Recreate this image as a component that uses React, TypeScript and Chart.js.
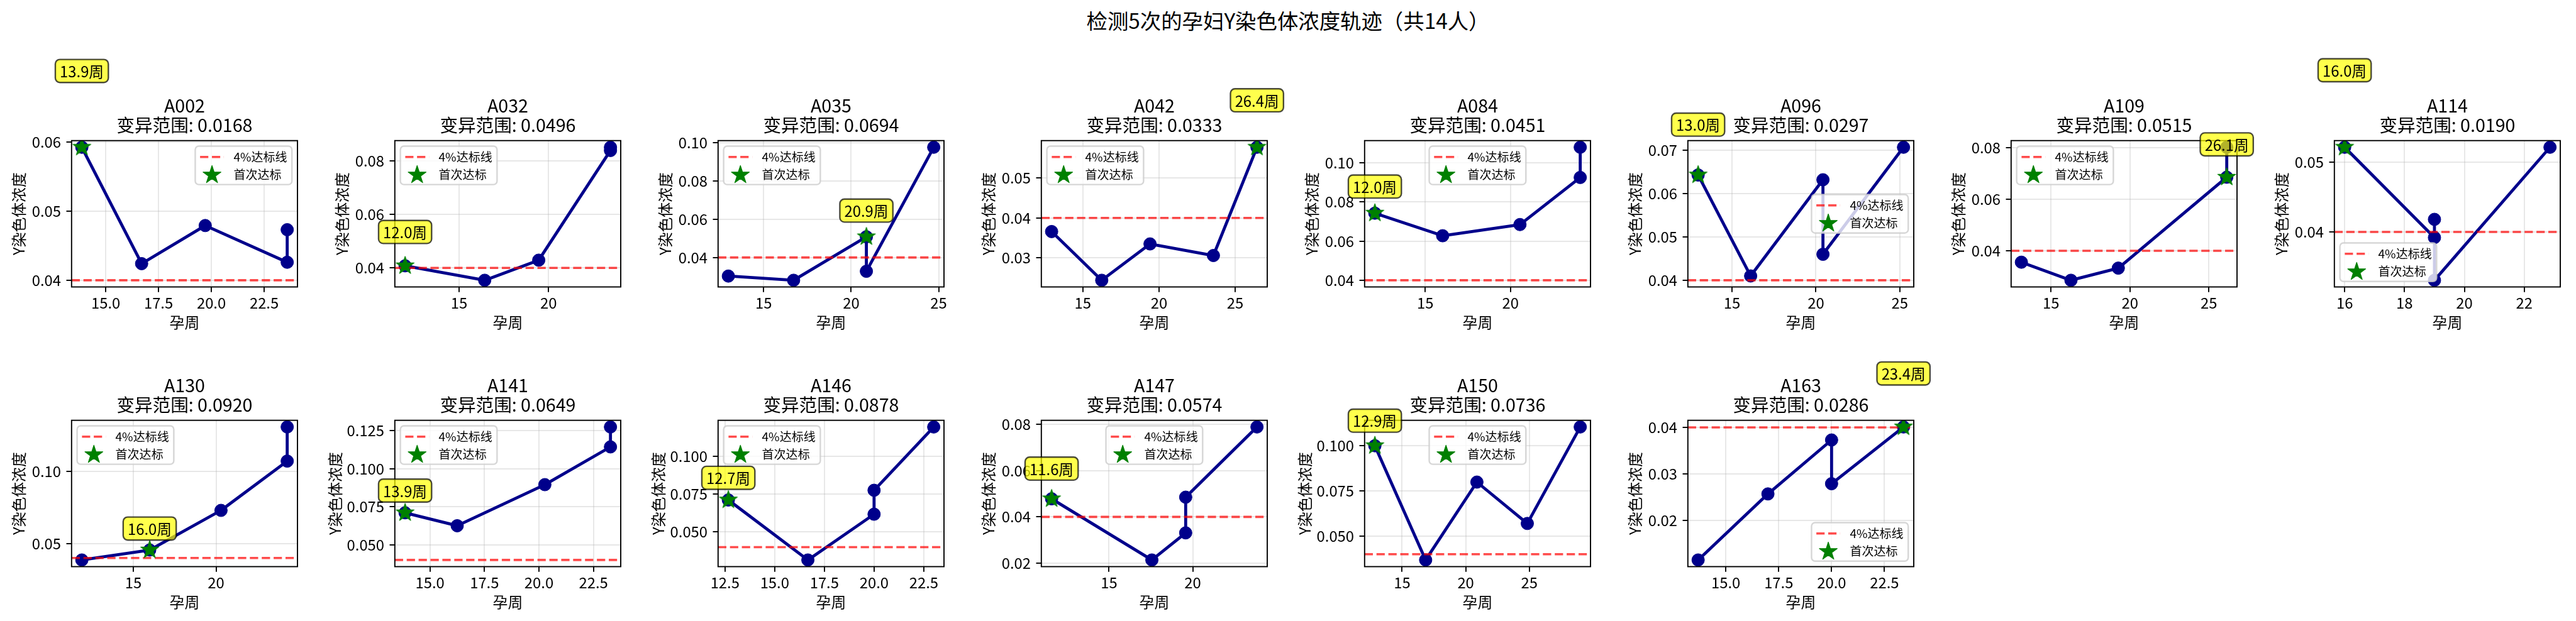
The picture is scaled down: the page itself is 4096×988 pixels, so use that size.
import React, { useEffect, useRef } from 'react';
import { Chart, registerables } from 'chart.js';

Chart.register(...registerables);

const FONT = '"Noto Sans CJK SC", "Noto Sans", sans-serif';

// ---------------- data ----------------
const SUPTITLE = '检测5次的孕妇Y染色体浓度轨迹（共14人）';
const ids = ['A002', 'A032', 'A035', 'A042', 'A084', 'A096', 'A109', 'A114', 'A130', 'A141', 'A146', 'A147', 'A150', 'A163'];
const weeks: number[][] = [
  [13.87, 16.70, 19.71, 23.59, 23.59],
  [11.98, 16.43, 19.45, 23.46, 23.46],
  [12.98, 16.71, 20.87, 20.87, 24.72],
  [12.95, 16.24, 19.41, 23.57, 26.43],
  [12.04, 16.02, 20.56, 24.10, 24.10],
  [12.98, 16.11, 20.42, 20.42, 25.22],
  [13.12, 16.26, 19.26, 26.13, 26.13],
  [16.00, 19.00, 19.00, 19.00, 22.86],
  [11.89, 15.99, 20.30, 24.30, 24.30],
  [13.86, 16.25, 20.27, 23.28, 23.28],
  [12.67, 16.67, 20.00, 20.00, 23.00],
  [11.57, 17.56, 19.58, 19.58, 23.84],
  [12.86, 16.85, 20.88, 24.84, 29.00],
  [13.69, 16.99, 20.00, 20.00, 23.40],
];
const concs: number[][] = [
  [0.0592, 0.0424, 0.0479, 0.0426, 0.0473],
  [0.0408, 0.0354, 0.0429, 0.0838, 0.0850],
  [0.0303, 0.0281, 0.0508, 0.0328, 0.0975],
  [0.0366, 0.0244, 0.0335, 0.0306, 0.0577],
  [0.0742, 0.0627, 0.0684, 0.0924, 0.1078],
  [0.0643, 0.0410, 0.0632, 0.0460, 0.0707],
  [0.0356, 0.0286, 0.0333, 0.0685, 0.0801],
  [0.0521, 0.0392, 0.0418, 0.0331, 0.0521],
  [0.0386, 0.0455, 0.0729, 0.1070, 0.1306],
  [0.0710, 0.0625, 0.0895, 0.1143, 0.1274],
  [0.0711, 0.0315, 0.0617, 0.0775, 0.1193],
  [0.0478, 0.0214, 0.0331, 0.0485, 0.0788],
  [0.1000, 0.0368, 0.0799, 0.0570, 0.1104],
  [0.0115, 0.0257, 0.0373, 0.0279, 0.0401],
];
const ranges = [0.0168, 0.0496, 0.0694, 0.0333, 0.0451, 0.0297, 0.0515, 0.0190, 0.0920, 0.0649, 0.0878, 0.0574, 0.0736, 0.0286];
const xTickSteps = [2.5, 5, 5, 5, 5, 5, 5, 2, 5, 2.5, 2.5, 5, 5, 2.5];
const yTickSteps = [0.01, 0.02, 0.02, 0.01, 0.02, 0.01, 0.02, 0.01, 0.05, 0.025, 0.025, 0.02, 0.025, 0.01];
const THRESHOLD = 0.04;
const LABEL_OFFSET = 0.01;
const legendLabels = ['4%达标线', '首次达标'];
const X_LABEL = '孕周';
const Y_LABEL = 'Y染色体浓度';

// legend placement per subplot (matplotlib 'best' result)
const legendLoc = [
  'upper right', 'upper left', 'upper left', 'upper left', 'upper center', 'center right', 'upper left', 'lower left',
  'upper left', 'upper left', 'upper left', 'upper center', 'upper center', 'lower right',
];

// ---------------- layout (window px) ----------------
const COL_W = 514;
const ROW_H = 445;
const CANVAS_W = 580;
const CANVAS_H = 543;
const AREA_LEFT = 113.8;
const AREA_W = 359.2;
const AREA_TOP = 223.7;
const AREA_H = 232.8;
const XAXIS_H = 80;

const LINE_COLOR = '#00008B';
const STAR_COLOR = '#008000';
const TICK_FS = 23.8;
const TITLE_FS = 28.6;
const LEGEND_FS = 19.05;
const ANNOT_FS = 23.8;

function decimalsOf(step: number) {
  const s = String(step);
  const i = s.indexOf('.');
  return i < 0 ? 0 : s.length - i - 1;
}

function limits(vals: number[]) {
  const mn = Math.min(...vals);
  const mx = Math.max(...vals);
  const m = (mx - mn) * 0.05;
  return [mn - m, mx + m];
}

function makeTicks(min: number, max: number, step: number) {
  const out: number[] = [];
  let k = Math.ceil(min / step - 1e-9);
  while (k * step <= max + 1e-12) {
    out.push(parseFloat((k * step).toFixed(10)));
    k++;
  }
  return out;
}

function starPath(ctx: CanvasRenderingContext2D, cx: number, cy: number, r: number) {
  ctx.beginPath();
  for (let i = 0; i < 10; i++) {
    const rad = i % 2 === 0 ? r : r * 0.381966;
    const a = -Math.PI / 2 + (i * Math.PI) / 5;
    const px = cx + rad * Math.cos(a);
    const py = cy + rad * Math.sin(a);
    if (i === 0) ctx.moveTo(px, py);
    else ctx.lineTo(px, py);
  }
  ctx.closePath();
}

function drawStar(ctx: CanvasRenderingContext2D, cx: number, cy: number) {
  ctx.save();
  starPath(ctx, cx, cy, 15.0);
  ctx.fillStyle = STAR_COLOR;
  ctx.fill();
  ctx.lineWidth = 1.2;
  ctx.lineJoin = 'round';
  ctx.strokeStyle = STAR_COLOR;
  ctx.stroke();
  ctx.restore();
}

function makeStarImage() {
  const size = 36;
  const c = document.createElement('canvas');
  c.width = size;
  c.height = size;
  const ctx = c.getContext('2d')!;
  drawStar(ctx, size / 2, size / 2);
  return c;
}

const decorPlugin = {
  id: 'decor',
  afterDatasetDraw(chart: any, args: any) {
    if (args.index !== 1) return;
    const { ctx, chartArea: a, scales } = chart;
    const py = scales.y.getPixelForValue(THRESHOLD);
    ctx.save();
    ctx.strokeStyle = 'rgba(255,0,0,0.7)';
    ctx.lineWidth = 3.6;
    ctx.setLineDash([13.2, 5.7]);
    ctx.lineCap = 'butt';
    ctx.beginPath();
    ctx.moveTo(a.left, py);
    ctx.lineTo(a.right, py);
    ctx.stroke();
    ctx.restore();
  },
  afterDatasetsDraw(chart: any, _args: any, opts: any) {
    const { ctx, chartArea: a, scales } = chart;
    const idx = opts.idx as number;
    // spines
    ctx.save();
    ctx.strokeStyle = '#000';
    ctx.lineWidth = 1.9;
    ctx.strokeRect(a.left, a.top, a.right - a.left, a.bottom - a.top);
    ctx.restore();

    // annotation of first hit
    const w = weeks[idx];
    const c = concs[idx];
    const hit = c.findIndex((v) => v >= THRESHOLD);
    if (hit >= 0) {
      const ax = scales.x.getPixelForValue(w[hit]);
      const ay = scales.y.getPixelForValue(c[hit] + LABEL_OFFSET);
      const txt = `${w[hit].toFixed(1)}周`;
      ctx.save();
      ctx.font = `${ANNOT_FS}px ${FONT}`;
      const tw = ctx.measureText(txt).width;
      const pad = 7.15;
      const th = 22.3;
      const bx = ax - tw / 2 - pad;
      const by = ay - th - pad;
      ctx.beginPath();
      ctx.roundRect(bx, by, tw + 2 * pad, th + 2 * pad, 7.15);
      ctx.fillStyle = 'rgba(255,255,0,0.7)';
      ctx.fill();
      ctx.lineWidth = 2.4;
      ctx.strokeStyle = 'rgba(0,0,0,0.7)';
      ctx.stroke();
      ctx.fillStyle = '#000';
      ctx.textAlign = 'center';
      ctx.textBaseline = 'middle';
      ctx.fillText(txt, ax, ay - th / 2 + 1);
      ctx.restore();
    }

    // legend
    const loc = legendLoc[idx];
    ctx.save();
    ctx.font = `${LEGEND_FS}px ${FONT}`;
    const tw = Math.max(...legendLabels.map((l) => ctx.measureText(l).width));
    const fs = LEGEND_FS;
    const bp = 0.4 * fs;
    const hl = 2 * fs;
    const htp = 0.8 * fs;
    const ls = 0.5 * fs;
    const rowH = 18.2;
    const gap = 8.8;
    const lw = 2 * bp + hl + htp + tw;
    const lh = 2 * bp + 2 * rowH + ls;
    let lx: number;
    let ly: number;
    if (loc.includes('left')) lx = a.left + gap;
    else if (loc.includes('right')) lx = a.right - gap - lw;
    else lx = (a.left + a.right) / 2 - lw / 2;
    if (loc.startsWith('upper')) ly = a.top + gap;
    else if (loc.startsWith('lower')) ly = a.bottom - gap - lh;
    else ly = (a.top + a.bottom) / 2 - lh / 2;
    ctx.beginPath();
    ctx.roundRect(lx, ly, lw, lh, 5.7);
    ctx.fillStyle = 'rgba(255,255,255,0.8)';
    ctx.fill();
    ctx.lineWidth = 2.4;
    ctx.strokeStyle = 'rgba(204,204,204,0.8)';
    ctx.stroke();
    const r1 = ly + bp + rowH / 2 + 0.5;
    const r2 = r1 + rowH + ls;
    ctx.save();
    ctx.beginPath();
    ctx.rect(lx + bp, r1 - 5, hl, 10);
    ctx.clip();
    ctx.strokeStyle = 'rgba(255,0,0,0.7)';
    ctx.lineWidth = 3.6;
    ctx.setLineDash([13.2, 5.7]);
    ctx.beginPath();
    ctx.moveTo(lx + bp, r1);
    ctx.lineTo(lx + bp + hl, r1);
    ctx.stroke();
    ctx.restore();
    drawStar(ctx, lx + bp + hl / 2, r2 + 1);
    ctx.fillStyle = '#000';
    ctx.textAlign = 'left';
    ctx.textBaseline = 'middle';
    ctx.fillText(legendLabels[0], lx + bp + hl + htp, r1);
    ctx.fillText(legendLabels[1], lx + bp + hl + htp, r2);
    ctx.restore();
  },
  afterDraw(chart: any, _args: any, opts: any) {
    const { ctx, chartArea: a } = chart;
    const idx = opts.idx as number;
    const cx = (a.left + a.right) / 2;
    ctx.save();
    ctx.font = `${TITLE_FS}px ${FONT}`;
    ctx.fillStyle = '#000';
    ctx.textAlign = 'center';
    ctx.textBaseline = 'alphabetic';
    ctx.fillText(ids[idx], cx, a.top - 44.7);
    ctx.fillText(`变异范围: ${ranges[idx].toFixed(4)}`, cx, a.top - 13.7);
    ctx.restore();
  },
};

function buildConfig(idx: number, starImg: HTMLCanvasElement): any {
  const w = weeks[idx];
  const c = concs[idx];
  const [xmin, xmax] = limits(w);
  const [ymin, ymax] = limits([...c, THRESHOLD]);
  const hit = c.findIndex((v) => v >= THRESHOLD);
  const xStep = xTickSteps[idx];
  const yStep = yTickSteps[idx];
  const xDec = decimalsOf(xStep);
  const yDec = decimalsOf(yStep);
  const lineData = w.map((x, j) => ({ x, y: c[j] }));
  const starData = hit >= 0 ? [{ x: w[hit], y: c[hit] }] : [];
  const yTitlePad = yDec >= 3 ? 4.5 : 15.5;
  const grid = {
    display: true,
    color: 'rgba(176,176,176,0.3)',
    lineWidth: 1.9,
    drawTicks: true,
    tickLength: 8.3,
    tickWidth: 1.9,
    tickColor: '#000',
  };
  return {
    type: 'line',
    data: {
      datasets: [
        {
          label: legendLabels[1],
          data: starData,
          showLine: false,
          pointStyle: starImg,
          pointRadius: 15,
          pointHoverRadius: 15,
          borderColor: STAR_COLOR,
          backgroundColor: STAR_COLOR,
        },
        {
          label: ids[idx],
          data: lineData,
          borderColor: LINE_COLOR,
          backgroundColor: LINE_COLOR,
          borderWidth: 4.8,
          borderJoinStyle: 'round',
          tension: 0,
          pointRadius: 10,
          pointHoverRadius: 10,
          pointBackgroundColor: LINE_COLOR,
          pointBorderColor: LINE_COLOR,
          pointBorderWidth: 1,
          fill: false,
        },
      ],
    },
    options: {
      animation: false,
      responsive: false,
      devicePixelRatio: 1,
      events: [],
      layout: {
        autoPadding: false,
        padding: {
          left: 0,
          top: AREA_TOP,
          right: CANVAS_W - AREA_LEFT - AREA_W,
          bottom: CANVAS_H - AREA_TOP - AREA_H - XAXIS_H,
        },
      },
      plugins: {
        legend: { display: false },
        tooltip: { enabled: false },
        title: { display: false },
        decor: { idx },
      },
      scales: {
        x: {
          type: 'linear',
          position: 'bottom',
          min: xmin,
          max: xmax,
          bounds: 'data',
          grid,
          border: { display: false },
          ticks: {
            autoSkip: false,
            maxRotation: 0,
            minRotation: 0,
            padding: 3.3,
            color: '#000',
            font: { family: FONT, size: TICK_FS },
            callback: (v: any) => Number(v).toFixed(xDec),
          },
          afterBuildTicks: (axis: any) => {
            axis.ticks = makeTicks(xmin, xmax, xStep).map((value) => ({ value }));
          },
          afterFit: (axis: any) => {
            axis.height = XAXIS_H;
          },
          title: {
            display: true,
            text: X_LABEL,
            color: '#000',
            font: { family: FONT, size: TICK_FS },
            padding: { top: 0, bottom: 8.9 },
          },
        },
        y: {
          type: 'linear',
          position: 'left',
          min: ymin,
          max: ymax,
          bounds: 'data',
          grid,
          border: { display: false },
          ticks: {
            autoSkip: false,
            padding: 8.5,
            color: '#000',
            font: { family: FONT, size: TICK_FS },
            callback: (v: any) => Number(v).toFixed(yDec),
          },
          afterBuildTicks: (axis: any) => {
            axis.ticks = makeTicks(ymin, ymax, yStep).map((value) => ({ value }));
          },
          afterFit: (axis: any) => {
            axis.width = AREA_LEFT;
          },
          title: {
            display: true,
            text: Y_LABEL,
            color: '#000',
            font: { family: FONT, size: TICK_FS },
            padding: { top: yTitlePad, bottom: 0 },
          },
        },
      },
    },
    plugins: [decorPlugin],
  };
}

function Subplot({ idx }: { idx: number }) {
  const ref = useRef<HTMLCanvasElement>(null);
  useEffect(() => {
    const starImg = makeStarImage();
    const chart = new Chart(ref.current as HTMLCanvasElement, buildConfig(idx, starImg));
    return () => chart.destroy();
  }, [idx]);
  const row = Math.floor(idx / 8);
  const col = idx % 8;
  return (
    <canvas
      ref={ref}
      width={CANVAS_W}
      height={CANVAS_H}
      style={{ position: 'absolute', left: col * COL_W, top: row * ROW_H, width: CANVAS_W, height: CANVAS_H }}
    />
  );
}

export default function App() {
  return (
    <div
      style={{
        position: 'absolute',
        left: 0,
        top: 0,
        width: 4096,
        height: 988,
        overflow: 'hidden',
        background: '#fff',
      }}
    >
      <div
        style={{
          position: 'absolute',
          left: 0,
          top: 12,
          width: 4096,
          textAlign: 'center',
          fontFamily: FONT,
          fontSize: 33.4,
          lineHeight: '40px',
          color: '#000',
        }}
      >
        {SUPTITLE}
      </div>
      {ids.map((_, i) => (
        <Subplot key={i} idx={i} />
      ))}
    </div>
  );
}
